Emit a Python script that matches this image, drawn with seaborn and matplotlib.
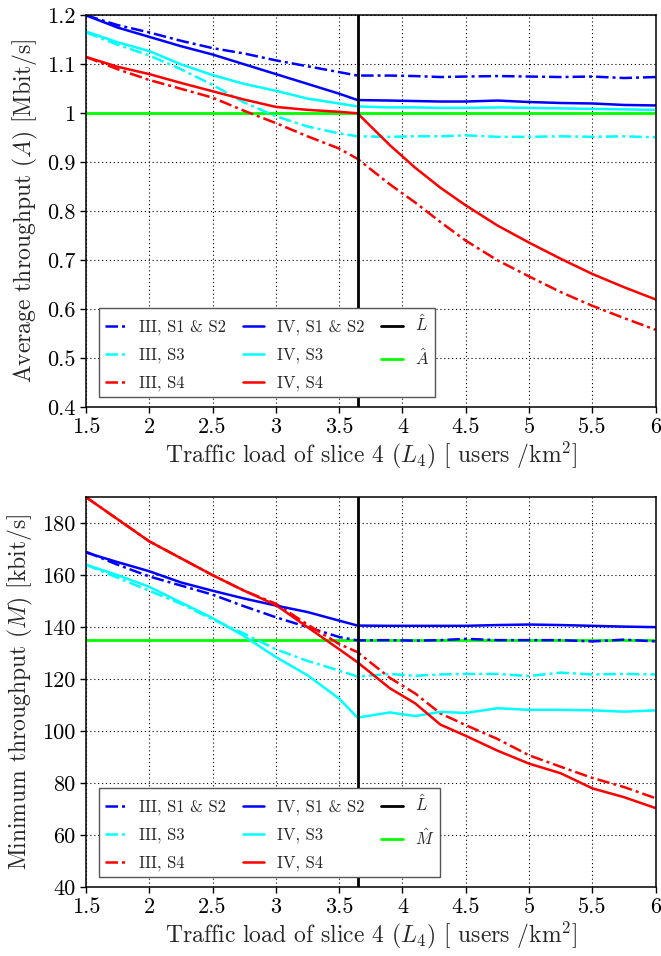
import numpy as np
import pandas as pd
import matplotlib
matplotlib.use("Agg")
import matplotlib.pyplot as plt
from matplotlib.ticker import FuncFormatter
import seaborn as sns

# traffic load of slice 4, users/km^2
load = [1.5, 1.75, 2.0, 2.25, 2.5, 2.75, 3.0, 3.25, 3.5, 3.645, 3.9, 4.1, 4.3, 4.5,
        4.75, 5.0, 5.25, 5.5, 5.75, 6.0]
L_hat = 3.645
A_hat = 1.0
M_hat = 135

# average throughput [Mbit/s]
avg_III_s12 = [1.200, 1.180, 1.165, 1.148, 1.133, 1.122, 1.108, 1.096, 1.084, 1.077,
               1.077, 1.076, 1.074, 1.075, 1.076, 1.075, 1.074, 1.075, 1.072, 1.074]
avg_III_s3 = [1.165, 1.140, 1.118, 1.090, 1.058, 1.022, 0.994, 0.973, 0.959, 0.953,
              0.952, 0.953, 0.953, 0.955, 0.952, 0.952, 0.953, 0.952, 0.953, 0.951]
avg_III_s4 = [1.115, 1.090, 1.068, 1.050, 1.032, 1.005, 0.980, 0.953, 0.928, 0.907,
              0.855, 0.818, 0.778, 0.740, 0.700, 0.667, 0.635, 0.607, 0.582, 0.558]
avg_IV_s12 = [1.200, 1.175, 1.156, 1.137, 1.120, 1.100, 1.080, 1.060, 1.040, 1.027,
              1.026, 1.025, 1.024, 1.024, 1.026, 1.023, 1.021, 1.020, 1.017, 1.016]
avg_IV_s3 = [1.167, 1.145, 1.127, 1.100, 1.078, 1.060, 1.046, 1.030, 1.020, 1.014,
             1.012, 1.012, 1.011, 1.011, 1.012, 1.011, 1.010, 1.009, 1.008, 1.007]
avg_IV_s4 = [1.115, 1.095, 1.080, 1.062, 1.045, 1.028, 1.013, 1.007, 1.003, 1.000,
             0.935, 0.889, 0.848, 0.812, 0.771, 0.736, 0.703, 0.672, 0.645, 0.620]

# minimum throughput [kbit/s]
min_III_s12 = [169, 164, 159.5, 156, 152.5, 148, 143.8, 140, 136.2, 134.9,
               135, 134.8, 135, 135.5, 135, 135, 135, 134.5, 135.2, 134.5]
min_III_s3 = [164, 159, 154, 149, 143, 137.5, 131.5, 127, 123.3, 121,
              122, 121.3, 121.8, 122, 122, 121.2, 122.5, 121.8, 122, 121.8]
min_III_s4 = [190, 181.5, 173, 166.5, 160, 154, 149, 141, 133.5, 130.4,
              120.5, 114.5, 106.8, 102.3, 97, 90.7, 86.3, 82, 78.5, 74.2]
min_IV_s12 = [168.7, 165, 161.5, 157.2, 154, 151, 148.3, 145.8, 142.5, 140.6,
              140.5, 140.5, 140.5, 140.5, 140.8, 141, 140.8, 140.5, 140.2, 140]
min_IV_s3 = [164, 160, 155.5, 149.5, 143.5, 136.5, 128.5, 121.5, 112.5, 105.2,
             107.2, 105.8, 107.4, 107, 108.8, 108.2, 108.2, 108, 107.5, 108]
min_IV_s4 = [190, 181.5, 173, 166.5, 160, 154, 148.5, 140, 131.5, 126.5,
             116.5, 110.7, 102.5, 98.2, 92.5, 87.5, 83.8, 78, 74.6, 70.4]

labels = ["III, S1 & S2", "III, S3", "III, S4", "IV, S1 & S2", "IV, S3", "IV, S4"]
colors = ["#0000ff", "#00ffff", "#ff0000", "#0000ff", "#00ffff", "#ff0000"]
dashdot = (0, (5, 1.6, 1.2, 1.6))
styles = [dashdot, dashdot, dashdot, "-", "-", "-"]

sns.set_style("white")
plt.rcParams["font.family"] = ["cmr10", "DejaVu Serif"]
plt.rcParams["mathtext.fontset"] = "cm"
plt.rcParams["axes.formatter.use_mathtext"] = True
plt.rcParams["font.size"] = 16

fig = plt.figure(figsize=(6.61, 9.56), dpi=100)
ax1 = fig.add_axes([0.130, 0.574, 0.862, 0.410])
ax2 = fig.add_axes([0.130, 0.072, 0.862, 0.408])


def draw(ax, series, hline, hlabel, ylim, yticks, ylabel, yfmt):
    for y, lab, c, ls in zip(series, labels, colors, styles):
        sns.lineplot(x=load, y=y, ax=ax, color=c, linestyle=ls, linewidth=1.8,
                     label=lab, estimator=None, sort=False, zorder=2)
    ax.axvline(L_hat, color="black", linewidth=2.0, label=r"$\hat{L}$", zorder=3)
    ax.axhline(hline, color="#00ff00", linewidth=2.0, label=hlabel, zorder=1.8)
    ax.set_xlim(1.5, 6)
    ax.set_ylim(*ylim)
    ax.set_xticks(np.arange(1.5, 6.01, 0.5))
    ax.set_yticks(yticks)
    ax.xaxis.set_major_formatter(FuncFormatter(lambda v, p: "%g" % v))
    ax.yaxis.set_major_formatter(FuncFormatter(yfmt))
    ax.grid(True, color="black", linewidth=0.8, linestyle=(0, (1, 2.5)))
    for s in ax.spines.values():
        s.set_color("black")
        s.set_linewidth(1.1)
    ax.tick_params(direction="out", length=4, width=1, labelsize=16, colors="black",
                   bottom=True, left=True)
    ax.set_xlabel(r"Traffic load of slice 4 $(L_4)$ [ users /km$^2$]", fontsize=17, labelpad=2)
    ax.set_ylabel(ylabel, fontsize=17, labelpad=5)
    leg = ax.legend(loc="lower left", bbox_to_anchor=(0.023, 0.0255), borderaxespad=0,
                    ncol=3, fontsize=12, frameon=True, fancybox=False, framealpha=1,
                    edgecolor="#555555", handlelength=1.3, handletextpad=0.75,
                    columnspacing=1.0, labelspacing=0.75, borderpad=0.35)
    leg.get_frame().set_linewidth(1.0)


draw(ax1, [avg_III_s12, avg_III_s3, avg_III_s4, avg_IV_s12, avg_IV_s3, avg_IV_s4],
     A_hat, r"$\hat{A}$", (0.4, 1.2), np.arange(0.4, 1.21, 0.1),
     r"Average throughput $(A)$ [Mbit/s]", lambda v, p: "%g" % round(v, 2))
draw(ax2, [min_III_s12, min_III_s3, min_III_s4, min_IV_s12, min_IV_s3, min_IV_s4],
     M_hat, r"$\hat{M}$", (40, 190), np.arange(40, 181, 20),
     r"Minimum throughput $(M)$ [kbit/s]", lambda v, p: "%g" % v)

fig.savefig("out.png", dpi=100)
